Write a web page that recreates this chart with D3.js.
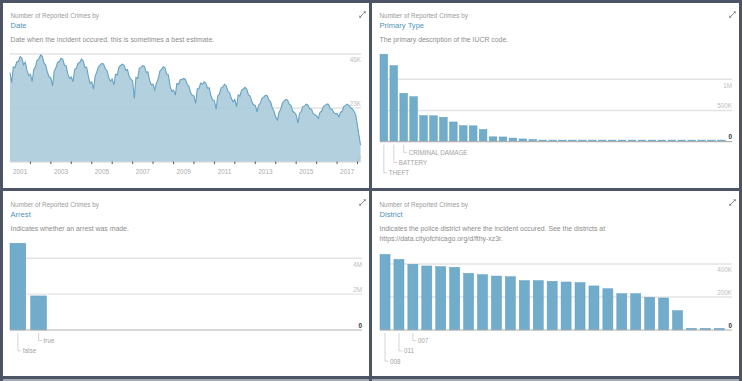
<!DOCTYPE html>
<html><head><meta charset="utf-8">
<script src="https://cdn.jsdelivr.net/npm/d3@7"></script>
<style>
body{margin:0;background:#4c5465;}
svg{display:block}
text{font-family:"Liberation Sans",Arial,Helvetica,sans-serif}
</style>
</head><body><svg id="c" width="742" height="381"></svg>
<script>
// ---------------- DATA ----------------
const chartHeading = "Number of Reported Crimes by";

// Date panel: monthly counts (thousands), Jan 2001 .. Jan 2018
const dateFirstMonth = "2001-01-01";
const dateValuesK = [
  38.1,33.8,40.5,40.2,42.6,42.9,44.9,44.3,41.4,42.5,39.0,36.8,
  37.4,34.2,39.3,40.6,43.4,43.9,45.6,45.0,42.1,41.3,38.2,36.3,
  35.8,32.4,38.6,40.1,42.4,42.8,44.2,43.8,41.2,40.9,37.4,35.6,
  36.2,34.2,39.4,39.9,42.1,42.4,43.9,43.1,40.2,40.4,36.6,33.6,
  34.1,31.0,36.6,38.4,40.6,41.4,42.0,41.7,39.6,39.0,35.9,34.4,
  35.4,32.8,37.4,37.1,40.4,41.1,41.7,41.2,39.1,39.4,36.4,35.3,
  34.6,27.1,36.0,35.6,39.9,40.4,41.0,40.7,38.1,38.4,34.6,32.9,
  33.1,30.7,33.6,35.4,38.6,39.4,40.6,40.1,37.4,37.1,32.2,30.1,
  30.6,28.5,33.4,33.1,35.0,35.2,35.6,35.3,33.1,32.4,29.6,28.4,
  28.1,25.0,31.1,31.4,33.6,33.1,34.2,33.6,31.4,31.6,28.1,26.4,
  26.1,22.4,28.1,29.0,31.6,32.0,33.1,32.4,30.1,29.4,27.0,25.7,
  26.6,23.6,28.6,28.1,30.6,31.1,31.8,31.1,28.6,28.1,25.6,24.4,
  24.1,21.4,24.2,25.1,27.1,27.6,28.5,28.2,26.4,25.6,23.1,21.6,
  19.1,17.9,21.1,22.6,25.1,26.0,26.7,26.3,24.6,24.1,21.6,21.1,
  20.1,16.5,20.6,21.6,23.6,23.9,24.6,24.2,22.6,22.6,20.6,20.1,
  19.6,18.6,21.1,21.6,23.6,24.1,24.7,24.6,22.6,22.6,21.1,20.6,
  20.6,19.3,21.1,21.6,23.6,24.1,24.6,24.1,23.1,22.6,21.6,20.1,
  7.2
];
const dateTicksK = [0, 23, 46];
const dateTickLabels = ["0", "23K", "46K"];
const yearLabels = ["2001","2003","2005","2007","2009","2011","2013","2015","2017"];

// Primary Type panel
const primaryTypes = ["THEFT","BATTERY","CRIMINAL DAMAGE","NARCOTICS","OTHER OFFENSE","ASSAULT","BURGLARY",
  "MOTOR VEHICLE THEFT","ROBBERY","DECEPTIVE PRACTICE","CRIMINAL TRESPASS","PROSTITUTION","WEAPONS VIOLATION",
  "PUBLIC PEACE VIOLATION","OFFENSE INVOLVING CHILDREN","CRIM SEXUAL ASSAULT","SEX OFFENSE",
  "INTERFERENCE WITH PUBLIC OFFICER","GAMBLING","LIQUOR LAW VIOLATION","ARSON","HOMICIDE","KIDNAPPING",
  "INTIMIDATION","STALKING","OBSCENITY","CONCEALED CARRY LICENSE VIOLATION","NON-CRIMINAL","PUBLIC INDECENCY",
  "OTHER NARCOTIC VIOLATION","HUMAN TRAFFICKING","NON - CRIMINAL","RITUALISM",
  "NON-CRIMINAL (SUBJECT SPECIFIED)","DOMESTIC VIOLENCE"];
const primaryCounts = [1402000,1218000,775000,721000,418000,415000,391000,316000,256000,254000,196000,
  78000,76000,58000,44000,34000,24000,15000,14000,13000,11000,9000,7000,4000,3400,500,300,150,140,100,50,40,20,5,1];
const primaryTicks = [0, 500000, 1000000];
const primaryTickLabels = ["0", "500K", "1M"];

// Arrest panel
const arrestCats = ["false", "true"];
const arrestCounts = [4840000, 1900000];
const arrestTicks = [0, 2000000, 4000000];
const arrestTickLabels = ["0", "2M", "4M"];

// District panel
const districts = ["008","011","007","025","006","004","003","009","012","002","019","005","010",
  "018","015","001","014","016","022","024","017","020","031","021","(blank)"];
const districtCounts = [458000,428000,398000,388000,384000,380000,343000,335000,327000,323000,299000,
  299000,295000,291000,287000,267000,250000,220000,220000,198000,194000,117000,120,60,10];
const districtTicks = [0, 200000, 400000];
const districtTickLabels = ["0", "200K", "400K"];

// ---------------- DRAWING ----------------
const svg = d3.select("#c");
const C = {
  bg:"#4c5465", panel:"#ffffff", head:"#9b9b9b", title:"#4f93b8", desc:"#8c8c8c",
  grid:"#e3e3e3", tick:"#bdbdbd", base:"#b0b0b0", bar:"#71acca", barStroke:"#5f9cc0",
  area:"#a9c9d9", line:"#68a2c2", leader:"#c9c9c9", catLabel:"#a3a3a3"
};

const panels = [
  {x:3,   y:3,   w:366, h:185, title:"Date", desc:["Date when the incident occured. this is sometimes a best estimate."]},
  {x:372, y:3,   w:367, h:185, title:"Primary Type", desc:["The primary description of the IUCR code."]},
  {x:3,   y:191, w:366, h:185, title:"Arrest", desc:["Indicates whether an arrest was made."]},
  {x:372, y:191, w:367, h:185, title:"District", desc:["Indicates the police district where the incident occured. See the districts at","https://data.cityofchicago.org/d/fthy-xz3r."]}
];

// lighter strip of next row at bottom
svg.append("rect").attr("x",3).attr("y",379).attr("width",366).attr("height",2).attr("fill","#a4a9b2");
svg.append("rect").attr("x",372).attr("y",379).attr("width",367).attr("height",2).attr("fill","#a4a9b2");

panels.forEach((p, i) => {
  const g = svg.append("g");
  g.append("rect").attr("x",p.x).attr("y",p.y).attr("width",p.w).attr("height",p.h).attr("fill",C.panel);
  const tx = p.x + 7.5;
  const off = p.y < 100 ? 0 : 1;
  g.append("text").attr("x",tx).attr("y",p.y+12.8+off).attr("dominant-baseline","central")
    .attr("font-size",6.4).attr("fill",C.head).text(chartHeading);
  g.append("text").attr("x",tx).attr("y",p.y+22.2+off).attr("dominant-baseline","central")
    .attr("font-size",7.6).attr("fill",C.title).text(p.title);
  p.desc.forEach((d, j) => {
    g.append("text").attr("x",tx).attr("y",p.y+36.2+off+j*10.3).attr("dominant-baseline","central")
      .attr("font-size",6.9).attr("fill",C.desc).text(d);
  });
  // expand icon
  const ix = p.x + p.w - 6.5, iy = p.y + 11.5;
  const ic = g.append("g").attr("transform",`translate(${ix},${iy})`);
  ic.append("line").attr("x1",-2.6).attr("y1",2.6).attr("x2",2.6).attr("y2",-2.6)
    .attr("stroke","#7a7a7a").attr("stroke-width",0.9);
  ic.append("path").attr("d","M3.3,-3.3 L0.8,-3.0 L3.0,-0.8 Z M-3.3,3.3 L-0.8,3.0 L-3.0,0.8 Z").attr("fill","#7a7a7a");
});

function rightTickLabels(g, ticks, labels, y, xRight, bold) {
  const top = d3.max(ticks);
  ticks.forEach((t, i) => {
    const yy = y(t) + (t === top ? 5.8 : -5.0);
    g.append("text").attr("x",xRight).attr("y",yy).attr("dominant-baseline","central")
      .attr("text-anchor","end").attr("font-size",6.3)
      .attr("fill", (t === 0 && bold) ? "#333" : C.tick)
      .attr("font-weight", (t === 0 && bold) ? "bold" : "normal")
      .text(labels[i]);
  });
}

// ---- Date area chart ----
(function(){
  const g = svg.append("g");
  const start = new Date(dateFirstMonth + "T00:00:00");
  const pts = dateValuesK.map((v, i) => ({d: d3.timeMonth.offset(start, i), v}));
  const x = d3.scaleTime().domain([start, new Date("2018-01-01T00:00:00")]).range([10, 357.5]);
  const y = d3.scaleLinear().domain([0, 46]).range([162, 54]);
  dateTicksK.filter(t => t > 0).forEach(t => {
    g.append("line").attr("x1",10).attr("x2",361).attr("y1",y(t)).attr("y2",y(t))
      .attr("stroke",C.grid).attr("stroke-width",1.4);
  });
  const lastX = x(pts[pts.length-1].d) + 3;
  const xp = (d, i) => i === pts.length-1 ? lastX : x(d.d);
  g.append("path").datum(pts)
    .attr("d", d3.area().x(xp).y0(y(0)).y1(d => y(d.v)))
    .attr("fill", C.area).attr("fill-opacity", 0.88);
  g.append("path").datum(pts)
    .attr("d", d3.line().x(xp).y(d => y(d.v)))
    .attr("fill","none").attr("stroke",C.line).attr("stroke-width",1.1);
  g.append("line").attr("x1",10).attr("x2",361).attr("y1",y(0)).attr("y2",y(0))
    .attr("stroke","#d5d5d5").attr("stroke-width",1);
  d3.range(2002, 2019).forEach(yr => {
    const xx = x(new Date(yr + "-01-01T00:00:00"));
    g.append("line").attr("x1",xx).attr("x2",xx).attr("y1",161.5).attr("y2",164)
      .attr("stroke","#555").attr("stroke-width",1);
  });
  yearLabels.forEach(l => {
    g.append("text").attr("x", x(new Date(l + "-07-01T00:00:00"))).attr("y",171.8)
      .attr("dominant-baseline","central").attr("text-anchor","middle")
      .attr("font-size",6.4).attr("fill","#ababab").text(l);
  });
  rightTickLabels(g, dateTicksK, dateTickLabels, y, 361, false);
})();

// ---- Bar charts ----
function barChart(cfg) {
  const g = svg.append("g");
  const n = cfg.cats.length;
  const x = d3.scaleBand().domain(cfg.cats)
    .range([cfg.x0, cfg.x0 + (n - cfg.pad) * cfg.step]).paddingInner(cfg.pad).paddingOuter(0);
  const y = d3.scaleLinear().domain([0, cfg.topTick]).range([cfg.base, cfg.topY]);
  cfg.ticks.filter(t => t > 0).forEach(t => {
    g.append("line").attr("x1",cfg.x0).attr("x2",cfg.xRight).attr("y1",y(t)).attr("y2",y(t))
      .attr("stroke",C.grid).attr("stroke-width",1.4);
  });
  g.selectAll("rect.bar").data(cfg.vals).join("rect").attr("class","bar")
    .attr("x",(d,i) => x(cfg.cats[i]))
    .attr("width", x.bandwidth())
    .attr("y", d => Math.min(y(d), cfg.base - 1.6))
    .attr("height", d => Math.max(cfg.base - y(d), 1.6))
    .attr("fill", C.bar).attr("stroke", C.barStroke).attr("stroke-width", 0.5);
  g.append("line").attr("x1",cfg.x0).attr("x2",cfg.xRight).attr("y1",cfg.base).attr("y2",cfg.base)
    .attr("stroke",C.base).attr("stroke-width",1.2);
  rightTickLabels(g, cfg.ticks, cfg.tickLabels, y, cfg.xRight, true);
  // leader labels
  const k = cfg.nLabels;
  for (let i = 0; i < k; i++) {
    const cx = x(cfg.cats[i]) + x.bandwidth() / 2;
    const ly = cfg.base + 10.6 + (k - 1 - i) * 10.3;
    g.append("path").attr("d", `M${cx},${cfg.base + 3} V${ly} H${cx + 3.5}`)
      .attr("fill","none").attr("stroke",C.leader).attr("stroke-width",0.8);
    g.append("text").attr("x", cx + 5).attr("y", ly).attr("dominant-baseline","central")
      .attr("font-size", 6.3).attr("fill", C.catLabel)
      .attr("font-family", cfg.narrow ? "'Liberation Sans Narrow','Arial Narrow','Liberation Sans',sans-serif" : null)
      .text(cfg.cats[i]);
  }
}

barChart({cats: primaryTypes, vals: primaryCounts, x0: 380, step: 9.93, pad: 0.23,
  base: 141.7, topY: 79.3, topTick: 1000000, ticks: primaryTicks, tickLabels: primaryTickLabels,
  xRight: 732, nLabels: 3, narrow: true});
barChart({cats: arrestCats, vals: arrestCounts, x0: 10, step: 20.7, pad: 0.24,
  base: 330, topY: 258.3, topTick: 4000000, ticks: arrestTicks, tickLabels: arrestTickLabels,
  xRight: 362, nLabels: 2});
barChart({cats: districts, vals: districtCounts, x0: 380, step: 13.93, pad: 0.28,
  base: 330, topY: 264, topTick: 400000, ticks: districtTicks, tickLabels: districtTickLabels,
  xRight: 732, nLabels: 3});
</script>
</body></html>
